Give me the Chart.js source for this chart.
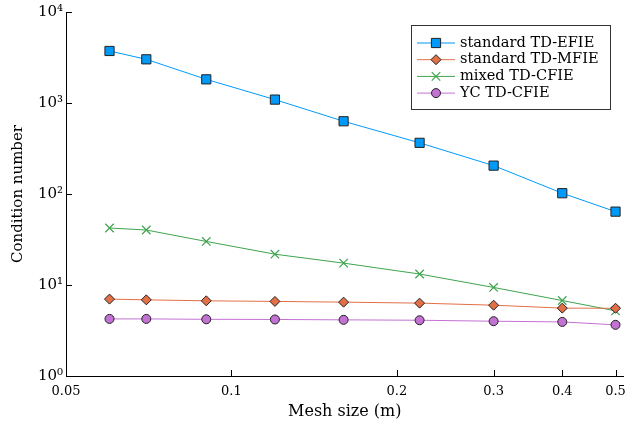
<!DOCTYPE html>
<html>
<head>
<meta charset="utf-8">
<script src="https://cdn.jsdelivr.net/npm/chart.js@4"></script>
<style>
  html, body { margin: 0; padding: 0; background: #fff; }
  #wrap { width: 631px; height: 425px; }
</style>
</head>
<body>
<div id="wrap"><canvas id="myChart" width="631" height="425"></canvas></div>
<script>
var meshSizes = [0.06, 0.07, 0.09, 0.12, 0.16, 0.22, 0.3, 0.4, 0.5];
var efieValues = [3730, 3020, 1820, 1090, 630, 365, 205, 102, 64];
var mfieValues = [7.0, 6.87, 6.7, 6.6, 6.48, 6.32, 6.0, 5.57, 5.55];
var mixedValues = [42.3, 40.2, 30.1, 21.8, 17.4, 13.2, 9.4, 6.75, 5.2];
var ycValues = [4.24, 4.24, 4.2, 4.18, 4.14, 4.1, 4.0, 3.93, 3.65];
var xTicks = [0.05, 0.1, 0.2, 0.3, 0.4, 0.5];
var yTicks = [1, 10, 100, 1000, 10000];
var yTickLabels = ["10⁰", "10¹", "10²", "10³", "10⁴"];

var serif = "'DejaVu Serif', 'Liberation Serif', serif";

function pts(values) {
	return meshSizes.map(function (x, i) { return { x: x, y: values[i] }; });
}

var series = [
	{ label: "standard TD-EFIE", data: pts(efieValues), color: "#009AFA", style: "rect", radius: 6.5, border: "#222" },
	{ label: "standard TD-MFIE", data: pts(mfieValues), color: "#E36F47", style: "rectRot", radius: 5, border: "#222" },
	{ label: "mixed TD-CFIE", data: pts(mixedValues), color: "#3EA44E", style: "crossRot", radius: 6, border: "#3EA44E" },
	{ label: "YC TD-CFIE", data: pts(ycValues), color: "#C371D2", style: "circle", radius: 4.5, border: "#222" },
];

// inward tick marks + legend with line and marker
var extras = {
	id: "extras",
	afterDraw: function (chart) {
		var ctx = chart.ctx;
		var area = chart.chartArea;
		var xs = chart.scales.x, ys = chart.scales.y;
		ctx.save();
		ctx.strokeStyle = "#000";
		ctx.lineWidth = 1;
		xTicks.forEach(function (v) {
			var px = Math.round(xs.getPixelForValue(v)) + 0.5;
			ctx.beginPath();
			ctx.moveTo(px, area.bottom);
			ctx.lineTo(px, area.bottom - 6);
			ctx.stroke();
		});
		yTicks.forEach(function (v) {
			var py = Math.round(ys.getPixelForValue(v)) + 0.5;
			ctx.beginPath();
			ctx.moveTo(area.left, py);
			ctx.lineTo(area.left + 6, py);
			ctx.stroke();
		});

		// legend
		var lx = 411, ly = 25, lw = 199, lh = 84;
		ctx.fillStyle = "#fff";
		ctx.fillRect(lx, ly, lw, lh);
		ctx.strokeStyle = "#333";
		ctx.strokeRect(lx + 0.5, ly + 0.5, lw, lh);
		ctx.font = "14.6px " + serif;
		ctx.textBaseline = "middle";
		series.forEach(function (s, i) {
			var y = 43 + i * 16.7;
			ctx.strokeStyle = s.color;
			ctx.lineWidth = 1;
			ctx.beginPath();
			ctx.moveTo(417, y);
			ctx.lineTo(455, y);
			ctx.stroke();
			ctx.fillStyle = s.color;
			ctx.strokeStyle = s.border;
			ctx.lineWidth = s.style === "crossRot" ? 1.2 : 1;
			Chart.helpers.drawPoint(ctx, { pointStyle: s.style, radius: s.radius, borderWidth: 1 }, 436, y);
			ctx.fillStyle = "#000";
			ctx.fillText(s.label, 460, y);
		});
		ctx.restore();
	},
};

new Chart("myChart", {
	type: "line",
	data: {
		datasets: series.map(function (s) {
			return {
				label: s.label,
				data: s.data,
				borderColor: s.color,
				borderWidth: 1,
				backgroundColor: s.color,
				pointStyle: s.style,
				pointRadius: s.radius,
				pointBackgroundColor: s.color,
				pointBorderColor: s.border,
				pointBorderWidth: s.style === "crossRot" ? 1.2 : 1,
				tension: 0,
			};
		}),
	},
	options: {
		responsive: false,
		animation: false,
		layout: { padding: { top: 12, right: 3, left: 0, bottom: 0 } },
		plugins: {
			legend: { display: false },
			tooltip: { enabled: false },
		},
		scales: {
			x: {
				type: "logarithmic",
				min: 0.05,
				max: 0.517,
				afterBuildTicks: function (scale) {
					scale.ticks = xTicks.map(function (v) { return { value: v }; });
				},
				afterFit: function (scale) {
					scale.height = 49;
					scale.paddingLeft = 0;
					scale.paddingRight = 0;
				},
				// tick marks themselves are drawn inward by the plugin;
				// tickLength here only pushes the labels down
				grid: { display: false, drawTicks: true, tickLength: 8 },
				border: { display: true, color: "#000", width: 1 },
				ticks: {
					autoSkip: false,
					maxRotation: 0,
					padding: 0,
					color: "#000",
					font: { family: serif, size: 13 },
					callback: function (v) { return String(v); },
				},
				title: {
					display: true,
					text: "Mesh size (m)",
					color: "#000",
					font: { family: serif, size: 16 },
					padding: { top: 0, bottom: 4 },
				},
			},
			y: {
				type: "logarithmic",
				min: 1,
				max: 10000,
				afterBuildTicks: function (scale) {
					scale.ticks = yTicks.map(function (v) { return { value: v }; });
				},
				afterFit: function (scale) {
					scale.width = 66;
					scale.paddingTop = 0;
					scale.paddingBottom = 0;
				},
				grid: { display: false, drawTicks: false },
				border: { display: true, color: "#000", width: 1 },
				ticks: {
					autoSkip: false,
					padding: 3,
					color: "#000",
					font: { family: serif, size: 15 },
					callback: function (v) {
						var i = yTicks.indexOf(v);
						return i >= 0 ? yTickLabels[i] : "";
					},
				},
				title: {
					display: true,
					text: "Condition number",
					color: "#000",
					font: { family: serif, size: 15 },
					padding: { top: 9, bottom: 0 },
				},
			},
		},
	},
	plugins: [extras],
});
</script>
</body>
</html>
